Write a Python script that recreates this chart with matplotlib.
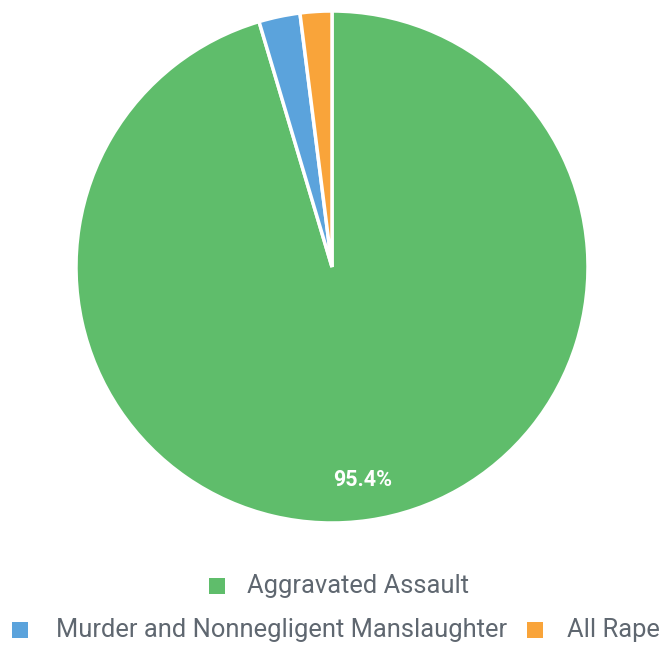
import matplotlib
matplotlib.use("Agg")
from matplotlib import pyplot as plt
from matplotlib.patches import Rectangle

# crime categories and their share of the total (%)
labels = ["Aggravated Assault", "Murder and Nonnegligent Manslaughter", "All Rape"]
values = [95.4, 2.6, 2.0]
colors = ["#5fbd6b", "#5ba3dc", "#f9a43a"]

plt.rcParams['font.family'] = ['Roboto', 'DejaVu Sans']

W, H = 662, 647
fig = plt.figure(figsize=(W/100, H/100), dpi=100)

# pie axes: centre (332,267), radius 256 px
cx, cy, r = 332, 267, 256
ax = fig.add_axes([(cx-r)/W, 1-(cy+r)/H, 2*r/W, 2*r/H])

def pct(p):
	return "%.1f%%" % p if p > 5 else ""

wedges, texts, autotexts = ax.pie(values, colors=colors, startangle=90, counterclock=False,
	autopct=pct, pctdistance=0.84,
	wedgeprops=dict(edgecolor="white", linewidth=2.5),
	textprops=dict(color="white", fontsize=15.5, fontweight="bold"))
ax.set_xlim(-1, 1)
ax.set_ylim(-1, 1)
ax.set_aspect("equal")
ax.axis("off")

# legend drawn by hand to match the two centered rows
rows = [
	[(0, 209, 247)],
	[(1, 12, 56), (2, 527, 567)],
]
row_y = [586, 630]
for row, yy in zip(rows, row_y):
	for idx, bx, tx in row:
		fig.patches.append(Rectangle((bx/W, 1-(yy+8)/H), 16/W, 16/H, transform=fig.transFigure,
			facecolor=colors[idx], edgecolor="none"))
		fig.text(tx/W, 1-yy/H, labels[idx], fontsize=18.4, color="#5f6770", va="center", ha="left")

fig.savefig("out.png", dpi=100, facecolor="white")
